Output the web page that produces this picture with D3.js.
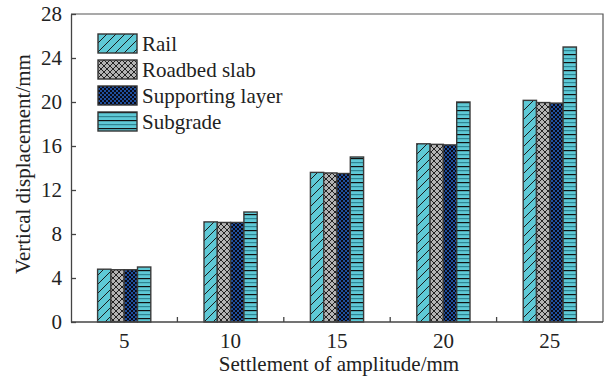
<!DOCTYPE html>
<html>
<head>
<meta charset="utf-8">
<script src="https://cdn.jsdelivr.net/npm/d3@7"></script>
<style>
body { margin: 0; background: #fff; }
</style>
</head>
<body>
<div id="chart"></div>
<script>
// data
var amplitudes = ["5", "10", "15", "20", "25"];
var seriesNames = ["Rail", "Roadbed slab", "Supporting layer", "Subgrade"];
var rail = [4.8, 9.1, 13.6, 16.2, 20.15];
var slab = [4.75, 9.05, 13.55, 16.15, 19.95];
var support = [4.75, 9.05, 13.5, 16.1, 19.9];
var subgrade = [5.0, 10.0, 15.0, 20.0, 25.0];
var yTicks = [0, 4, 8, 12, 16, 20, 24, 28];

var seriesValues = [rail, slab, support, subgrade];
var FONT = "Liberation Serif";
var FS = 21;

var margin = {top: 14, right: 3, bottom: 61, left: 71};
var width = 606 - margin.left - margin.right,
    height = 383 - margin.top - margin.bottom;

var svg = d3.select("#chart").append("svg")
    .attr("width", 606)
    .attr("height", 383)
    .attr("font-family", FONT);

// fill patterns
var defs = svg.append("defs");

var p1 = defs.append("pattern").attr("id", "pat0")
    .attr("patternUnits", "userSpaceOnUse").attr("width", 9).attr("height", 9);
p1.append("rect").attr("width", 9).attr("height", 9).attr("fill", "#5ec9d6");
p1.append("path").attr("d", "M-2,11 L11,-2 M-2,2 L2,-2 M7,11 L11,7")
    .attr("stroke", "#1a1a1a").attr("stroke-width", 1);

var p2 = defs.append("pattern").attr("id", "pat1")
    .attr("patternUnits", "userSpaceOnUse").attr("width", 6).attr("height", 6);
p2.append("rect").attr("width", 6).attr("height", 6).attr("fill", "#b3b3b3");
p2.append("path").attr("d", "M0,0 L6,6 M6,0 L0,6")
    .attr("stroke", "#222").attr("stroke-width", 1);

var p3 = defs.append("pattern").attr("id", "pat2")
    .attr("patternUnits", "userSpaceOnUse").attr("width", 4).attr("height", 4);
p3.append("rect").attr("width", 4).attr("height", 4).attr("fill", "#1f4f9e");
p3.append("rect").attr("width", 2).attr("height", 2).attr("fill", "#0a0a14");
p3.append("rect").attr("x", 2).attr("y", 2).attr("width", 2).attr("height", 2).attr("fill", "#0a0a14");

var p4 = defs.append("pattern").attr("id", "pat3")
    .attr("patternUnits", "userSpaceOnUse").attr("width", 8).attr("height", 8);
p4.append("rect").attr("width", 8).attr("height", 8).attr("fill", "#5ec9d6");
p4.append("rect").attr("y", 0).attr("width", 8).attr("height", 1.2).attr("fill", "#111");
p4.append("rect").attr("y", 4).attr("width", 8).attr("height", 1.2).attr("fill", "#2f8593");

var g = svg.append("g")
    .attr("transform", "translate(" + margin.left + "," + margin.top + ")");

var x0 = d3.scaleBand().domain(amplitudes).range([0, width]).padding(0);
var x1 = d3.scaleBand().domain(d3.range(seriesNames.length))
    .range([0, x0.bandwidth() * 0.5]);
var y = d3.scaleLinear().domain([0, 28]).range([height, 0]);

// frame (top and right)
g.append("path")
    .attr("d", "M0,0 H" + width + " V" + height)
    .attr("fill", "none").attr("stroke", "#555").attr("stroke-width", 1.2);

// bars
amplitudes.forEach(function(a, i) {
    var off = x0(a) + x0.bandwidth() * 0.25;
    seriesValues.forEach(function(vals, s) {
        g.append("rect")
            .attr("x", off + x1(s))
            .attr("y", y(vals[i]))
            .attr("width", x1.bandwidth())
            .attr("height", height - y(vals[i]))
            .attr("fill", "url(#pat" + s + ")")
            .attr("stroke", "#3a3a3a")
            .attr("stroke-width", 1.4);
    });
});

// axes
var yAxis = d3.axisLeft(y).tickValues(yTicks).tickSizeInner(-5).tickSizeOuter(0).tickPadding(9);
var yg = g.append("g").call(yAxis).attr("font-family", FONT).attr("font-size", FS);
yg.select(".domain").attr("stroke", "#444").attr("stroke-width", 1.3);
yg.selectAll(".tick line").attr("stroke", "#444").attr("stroke-width", 1.3);
yg.selectAll("text").attr("fill", "#222");

// x axis: tick marks between groups, labels at centres
var xg = g.append("g").attr("transform", "translate(0," + height + ")");
xg.append("line").attr("x1", 0).attr("x2", width)
    .attr("stroke", "#444").attr("stroke-width", 1.3);
amplitudes.slice(1).forEach(function(a) {
    xg.append("line").attr("x1", x0(a)).attr("x2", x0(a))
        .attr("y1", 0).attr("y2", -5)
        .attr("stroke", "#444").attr("stroke-width", 1.3);
});
amplitudes.forEach(function(a) {
    xg.append("text")
        .attr("x", x0(a) + x0.bandwidth() / 2)
        .attr("y", 26)
        .attr("text-anchor", "middle")
        .attr("font-size", FS)
        .attr("fill", "#222")
        .text(a);
});

// axis titles
svg.append("text")
    .attr("x", margin.left + width / 2 + 2)
    .attr("y", 371)
    .attr("text-anchor", "middle")
    .attr("font-size", FS)
    .attr("fill", "#222")
    .text("Settlement of amplitude/mm");

svg.append("text")
    .attr("transform", "translate(30," + 164 + ") rotate(-90)")
    .attr("text-anchor", "middle")
    .attr("font-size", FS)
    .attr("fill", "#222")
    .text("Vertical displacement/mm");

// legend
var legend = svg.append("g").attr("transform", "translate(98,34)");
seriesNames.forEach(function(name, s) {
    var row = legend.append("g").attr("transform", "translate(0," + (s * 26) + ")");
    row.append("rect")
        .attr("width", 39).attr("height", 19)
        .attr("fill", "url(#pat" + s + ")")
        .attr("stroke", "#333").attr("stroke-width", 1.4);
    row.append("text")
        .attr("x", 44).attr("y", 17)
        .attr("font-size", FS)
        .attr("fill", "#222")
        .text(name);
});
</script>
</body>
</html>
